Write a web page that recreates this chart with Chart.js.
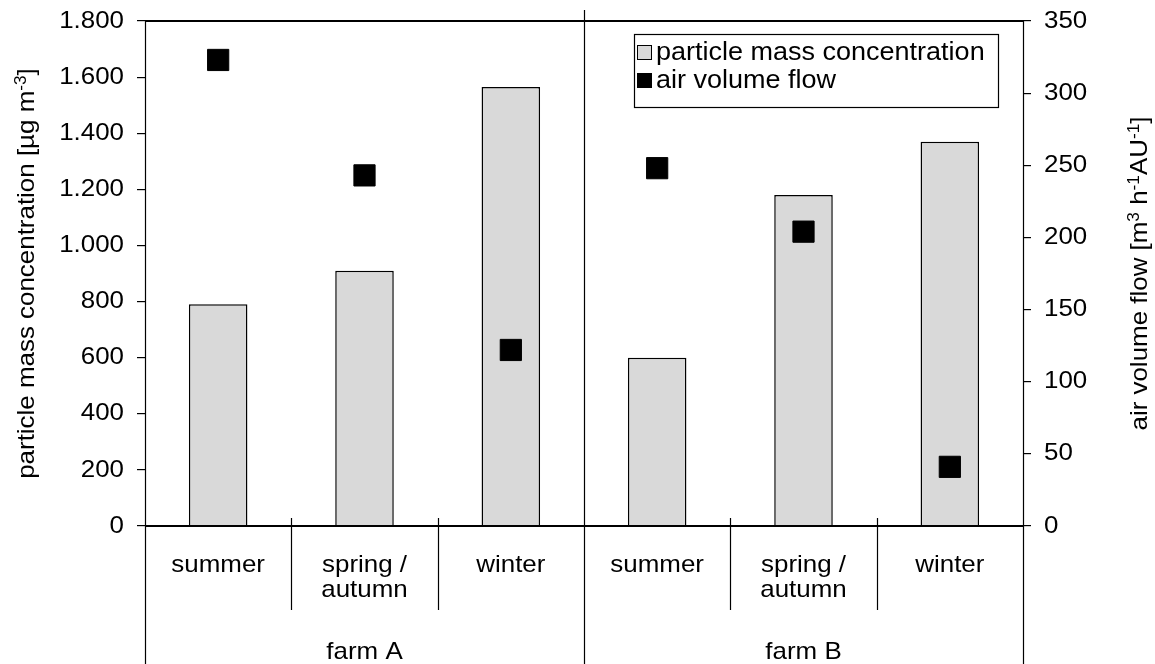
<!DOCTYPE html>
<html><head><meta charset="utf-8">
<script src="https://cdn.jsdelivr.net/npm/chart.js@4.4.1/dist/chart.umd.min.js"></script>
<style>html,body{margin:0;padding:0;background:#fff}#wrap{width:1155px;height:664px}</style>
</head><body><div id="wrap"><canvas id="c" width="1155" height="664"></canvas></div>
<script>
// ---- data ----
const seasons = [['summer'], ['spring /', 'autumn'], ['winter'], ['summer'], ['spring /', 'autumn'], ['winter']];
const farms = ['farm A', 'farm B'];
const particleMass = [790, 910, 1565, 600, 1180, 1370];
const airFlow = [323, 243, 122, 248, 204, 41];
// axis titles: [text, isSuperscript]
const leftTitle = [['particle mass concentration [µg m', false], ['-3', true], [']', false]];
const rightTitle = [['air volume flow [m', false], ['3', true], [' h', false], ['-1', true], ['AU', false], ['-1', true], [']', false]];
const legendLabels = ['particle mass concentration', 'air volume flow'];

const FONT = "'Liberation Sans', Arial, sans-serif";
const FS = 24;
const SX = 1.08; // horizontal text widening to match reference glyph widths

const canvas = document.getElementById('c');
const ctx = canvas.getContext('2d');
const origFill = ctx.fillText.bind(ctx);
const origMeasure = ctx.measureText.bind(ctx);
ctx.fillText = function (t, x, y, mw) {
  ctx.save();
  ctx.translate(x, y);
  ctx.scale(SX, 1);
  if (mw === undefined) origFill(t, 0, 0); else origFill(t, 0, 0, mw / SX);
  ctx.restore();
};
ctx.measureText = function (t) {
  const m = origMeasure(t);
  return { width: m.width * SX, actualBoundingBoxAscent: m.actualBoundingBoxAscent, actualBoundingBoxDescent: m.actualBoundingBoxDescent,
    actualBoundingBoxLeft: m.actualBoundingBoxLeft * SX, actualBoundingBoxRight: m.actualBoundingBoxRight * SX,
    fontBoundingBoxAscent: m.fontBoundingBoxAscent, fontBoundingBoxDescent: m.fontBoundingBoxDescent };
};

function fmtDE(v) { return String(v).replace(/\B(?=(\d{3})+(?!\d))/g, '.'); }

function drawRich(c, parts, cx, cy, rot) {
  const base = FS + 'px ' + FONT, sup = '16px ' + FONT;
  let total = 0;
  const ws = parts.map(([t, s]) => { c.font = s ? sup : base; const w = c.measureText(t).width; total += w; return w; });
  c.save();
  c.translate(cx, cy);
  c.rotate(rot);
  c.textAlign = 'left';
  c.textBaseline = 'alphabetic';
  let x = -total / 2;
  parts.forEach(([t, s], i) => {
    c.font = s ? sup : base;
    c.fillText(t, x, s ? 0 : 8);
    x += ws[i];
  });
  c.restore();
}

const framePlugin = {
  id: 'frame',
  afterDraw(chart) {
    const { chartArea: a, scales: { x } } = chart;
    const c = chart.ctx;
    const mid = (i) => Math.round((x.getPixelForValue(i) + x.getPixelForValue(i + 1)) / 2) + 0.5;
    c.save();
    c.strokeStyle = '#000';
    const seg = (x1, y1, x2, y2, w) => { c.lineWidth = w; c.beginPath(); c.moveTo(x1, y1); c.lineTo(x2, y2); c.stroke(); };
    const L = Math.round(a.left) + 0.5, R = Math.round(a.right) + 0.5;
    const T = Math.round(a.top), B = Math.round(a.bottom);
    seg(L - 0.5, T, R + 0.5, T, 2);
    seg(L - 0.5, B, R + 0.5, B, 2);
    seg(L, T, L, 664, 1.2);
    seg(R, T, R, 664, 1.2);
    seg(mid(2), 10, mid(2), 664, 1.2);
    [0, 1, 3, 4].forEach(i => seg(mid(i), B - 8, mid(i), 610, 1.2));

    c.fillStyle = '#000';
    const my = (a.top + a.bottom) / 2;
    drawRich(c, leftTitle, 26, my, -Math.PI / 2);
    drawRich(c, rightTitle, 1139, my, -Math.PI / 2);

    // legend
    c.fillStyle = '#fff';
    c.fillRect(634, 34, 364, 73);
    c.lineWidth = 1.2;
    c.strokeRect(634.5, 34.5, 364, 73);
    c.fillStyle = '#d9d9d9';
    c.fillRect(637, 45, 15, 15);
    c.lineWidth = 1;
    c.strokeRect(637.5, 45.5, 14, 14);
    c.fillStyle = '#000';
    c.fillRect(637, 73, 15, 15);
    c.font = '25px ' + FONT;
    c.textAlign = 'left';
    c.textBaseline = 'middle';
    c.fillText(legendLabels[0], 656, 53);
    c.fillText(legendLabels[1], 656, 81);
    c.restore();
  }
};

function noPad(s) { s.paddingTop = 0; s.paddingBottom = 0; }

new Chart(ctx, {
  data: {
    labels: seasons,
    datasets: [
      {
        type: 'line', label: legendLabels[1], data: airFlow, yAxisID: 'y1', xAxisID: 'x',
        showLine: false, pointStyle: 'rect', pointRadius: 15, pointHoverRadius: 15,
        pointBackgroundColor: '#000', pointBorderColor: '#000', pointBorderWidth: 1, order: 0
      },
      {
        type: 'bar', label: legendLabels[0], data: particleMass, yAxisID: 'y', xAxisID: 'x',
        backgroundColor: '#d9d9d9', borderColor: '#000', borderWidth: 1.5,
        barPercentage: 0.4, categoryPercentage: 1, order: 1
      }
    ]
  },
  options: {
    responsive: false, animation: false, devicePixelRatio: 1,
    layout: { padding: { top: 21, left: 0, right: 0, bottom: 0 } },
    plugins: { legend: { display: false }, tooltip: { enabled: false } },
    scales: {
      x: {
        type: 'category', position: 'bottom', offset: true, weight: 0,
        grid: { display: false, drawTicks: false }, border: { display: false },
        ticks: { color: '#000', font: { family: FONT, size: FS, lineHeight: 1.05 }, padding: 27, maxRotation: 0, autoSkip: false },
        afterFit(s) { s.height = 100; s.paddingLeft = 0; s.paddingRight = 0; }
      },
      x2: {
        type: 'category', position: 'bottom', offset: true, weight: 1, labels: farms,
        grid: { display: false, drawTicks: false }, border: { display: false },
        ticks: { color: '#000', font: { family: FONT, size: FS, lineHeight: 1.05 }, padding: 14, maxRotation: 0 },
        afterFit(s) { s.height = 38; s.paddingLeft = 0; s.paddingRight = 0; }
      },
      y: {
        position: 'left', min: 0, max: 1800,
        grid: { drawOnChartArea: false, drawTicks: true, tickLength: 8, color: '#000', lineWidth: 1.2 },
        border: { display: false },
        ticks: { stepSize: 200, color: '#000', font: { family: FONT, size: FS }, padding: 13, callback: (v) => fmtDE(v) },
        afterFit(s) { s.width = 145; noPad(s); }
      },
      y1: {
        position: 'right', min: 0, max: 350,
        grid: { drawOnChartArea: false, drawTicks: true, tickLength: 8, color: '#000', lineWidth: 1.2 },
        border: { display: false },
        ticks: { stepSize: 50, color: '#000', font: { family: FONT, size: FS }, padding: 13 },
        afterFit(s) { s.width = 132; noPad(s); }
      }
    }
  },
  plugins: [framePlugin]
});
</script>
</body></html>
